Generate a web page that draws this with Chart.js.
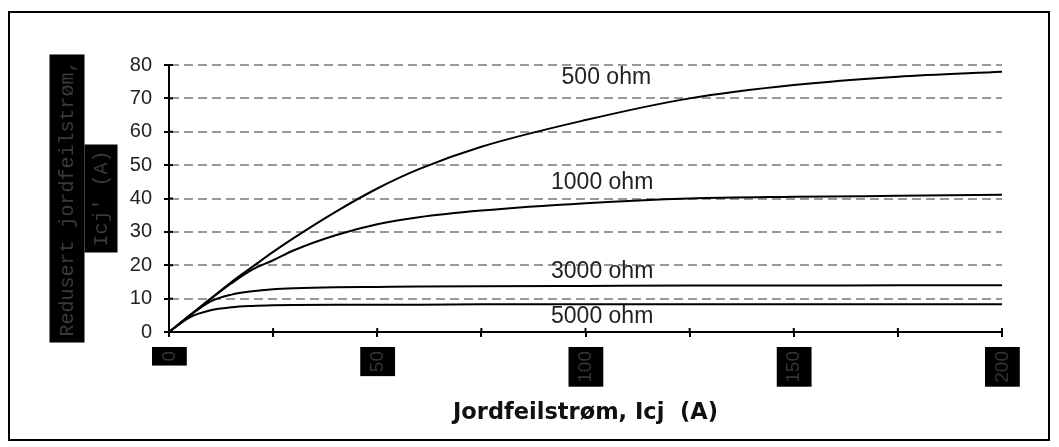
<!DOCTYPE html>
<html>
<head>
<meta charset="utf-8">
<title>Jordfeilstrøm</title>
<script src="https://cdn.jsdelivr.net/npm/chart.js"></script>
<style>
  body { margin: 0; background: #fff; }
  #wrap { width: 1059px; height: 447px; }
</style>
</head>
<body>
<div id="wrap"><canvas id="myChart"></canvas></div>
<script>
// values
var current = [0, 5, 10, 15, 20, 25, 30, 40, 50, 60, 75, 100, 125, 150, 175, 200];
var r500  = [0, 5, 10, 15, 19.5, 24, 28.2, 36, 43, 48.8, 55.5, 63.5, 70, 74, 76.5, 78];
var r1000 = [0, 5, 9.9, 14.6, 18.7, 21.5, 24.5, 29, 32.3, 34.4, 36.4, 38.6, 40, 40.5, 40.8, 41.1];
var r3000 = [0, 4.9, 9.2, 11.2, 12.2, 12.8, 13.1, 13.4, 13.5, 13.6, 13.7, 13.8, 13.9, 13.9, 14, 14];
var r5000 = [0, 4.4, 6.5, 7.4, 7.8, 8.0, 8.1, 8.2, 8.2, 8.2, 8.3, 8.3, 8.3, 8.3, 8.3, 8.3];
var seriesNames = ['500 ohm', '1000 ohm', '3000 ohm', '5000 ohm'];
// where the curve names sit, in data units
var labelX = [105, 104, 104, 104];
var labelY = [76.3, 44.6, 18.1, 4.6];
var xTitle = 'Jordfeilstrøm, Icj  (A)';
var yTitle = ['Redusert jordfeilstrøm,', "Icj' (A)"];

function pts(arr) {
  return arr.map(function (v, i) { return { x: current[i], y: v }; });
}

var framePlugin = {
  id: 'frame',
  afterDraw: function (chart) {
    var c = chart.ctx, xs = chart.scales.x, ys = chart.scales.y;
    c.save();
    // outer frame
    c.strokeStyle = '#000';
    c.lineWidth = 2;
    c.strokeRect(9, 12, 1040, 428);

    // tick marks crossing into the plot
    xs.ticks.forEach(function (t) {
      var px = xs.getPixelForValue(t.value);
      c.beginPath(); c.moveTo(px, ys.bottom); c.lineTo(px, ys.bottom - 4); c.stroke();
    });
    ys.ticks.forEach(function (t) {
      var py = ys.getPixelForValue(t.value);
      c.beginPath(); c.moveTo(xs.left, py); c.lineTo(xs.left + 4, py); c.stroke();
    });

    // curve names
    c.font = '23px "Liberation Sans", Arial, sans-serif';
    c.fillStyle = '#222';
    c.textAlign = 'center';
    c.textBaseline = 'middle';
    seriesNames.forEach(function (n, i) {
      c.fillText(n, xs.getPixelForValue(labelX[i]), ys.getPixelForValue(labelY[i]));
    });

    // y axis title in black boxes
    var midY = (chart.chartArea.top + chart.chartArea.bottom) / 2;
    c.font = '20px "Liberation Mono", monospace';
    var cx = [67, 101], thick = [35, 33];
    yTitle.forEach(function (line, i) {
      var w = c.measureText(line).width + 12;
      c.fillStyle = '#000';
      c.fillRect(cx[i] - thick[i] / 2, midY - w / 2, thick[i], w);
      c.save();
      c.translate(cx[i], midY);
      c.rotate(-Math.PI / 2);
      c.fillStyle = '#3a3a3a';
      c.fillText(line, 0, 1);
      c.restore();
    });
    c.restore();
  }
};

var ctx = document.getElementById('myChart');
var lineStyle = {
  borderColor: '#000',
  backgroundColor: '#000',
  borderWidth: 2,
  pointRadius: 0,
  fill: false,
  cubicInterpolationMode: 'monotone'
};
new Chart(ctx, {
  type: 'line',
  plugins: [framePlugin],
  data: {
    datasets: [
      Object.assign({ label: seriesNames[0], data: pts(r500) }, lineStyle),
      Object.assign({ label: seriesNames[1], data: pts(r1000) }, lineStyle),
      Object.assign({ label: seriesNames[2], data: pts(r3000) }, lineStyle),
      Object.assign({ label: seriesNames[3], data: pts(r5000) }, lineStyle)
    ]
  },
  options: {
    responsive: true,
    maintainAspectRatio: false,
    animation: false,
    layout: { padding: { left: 0, top: 65, right: 57, bottom: 0 } },
    plugins: {
      legend: { display: false },
      tooltip: { enabled: false }
    },
    scales: {
      x: {
        type: 'linear',
        min: 0,
        max: 200,
        afterFit: function (s) { s.height = 115; },
        border: { display: true, color: '#000', width: 2 },
        grid: { drawOnChartArea: false, tickColor: '#000', tickLength: 5, lineWidth: 2 },
        ticks: {
          stepSize: 25,
          minRotation: 90,
          maxRotation: 90,
          padding: 14,
          labelOffset: -11,
          color: '#333',
          font: { size: 19, family: '"Liberation Sans", Arial, sans-serif' },
          callback: function (v) { return v % 50 === 0 ? String(v) : ''; },
          showLabelBackdrop: function (c) { return c.tick && c.tick.value % 50 === 0; },
          backdropColor: '#000',
          backdropPadding: { left: 4, right: 4, top: 6, bottom: 6 }
        },
        title: {
          display: true,
          text: xTitle,
          color: '#111',
          font: { size: 22.5, weight: 'bold', family: '"DejaVu Sans", Verdana, sans-serif' },
          padding: { top: 0, bottom: 20 }
        }
      },
      y: {
        min: 0,
        max: 80,
        afterFit: function (s) { s.width = 169; },
        border: { display: true, color: '#000', width: 2, dash: [9, 5] },
        grid: {
          color: function (c) { return c.tick && c.tick.value === 0 ? 'rgba(0,0,0,0)' : '#999'; },
          lineWidth: 2,
          tickColor: '#000',
          tickLength: 5,
          tickBorderDash: []
        },
        ticks: {
          stepSize: 10,
          padding: 12,
          color: '#222',
          font: { size: 20, family: '"Liberation Sans", Arial, sans-serif' }
        }
      }
    }
  }
});
</script>
</body>
</html>
